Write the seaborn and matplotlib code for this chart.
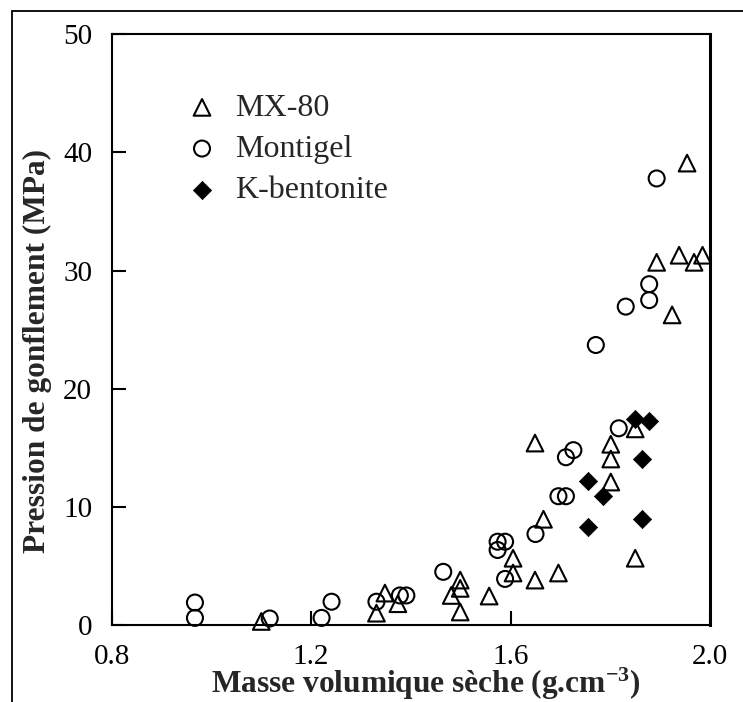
import matplotlib
matplotlib.use("Agg")
import matplotlib.pyplot as plt
from matplotlib.patches import Rectangle
import seaborn as sns
import pandas as pd

# ---- data ----
mx80_x = [1.100, 1.331, 1.348, 1.374, 1.499, 1.499, 1.481, 1.499, 1.557, 1.605,
          1.605, 1.666, 1.649, 1.696, 1.649, 1.801, 1.801, 1.801, 1.850, 1.850,
          1.954, 1.893, 1.938, 1.968, 1.985, 1.924]
mx80_y = [0.3, 1.0, 2.7, 1.8, 3.8, 3.1, 2.5, 1.1, 2.45, 4.4,
          5.65, 8.95, 3.8, 4.4, 15.4, 15.3, 14.05, 12.1, 16.6, 5.65,
          39.1, 30.7, 31.3, 30.7, 31.3, 26.25]

montigel_x = [0.967, 0.967, 1.117, 1.221, 1.241, 1.331, 1.378, 1.391, 1.465, 1.589,
              1.574, 1.589, 1.574, 1.650, 1.696, 1.711, 1.711, 1.726, 1.817, 1.893,
              1.878, 1.878, 1.831, 1.771]
montigel_y = [1.9, 0.6, 0.55, 0.6, 1.97, 1.97, 2.5, 2.5, 4.5, 3.9,
              7.05, 7.05, 6.35, 7.7, 10.9, 10.9, 14.2, 14.8, 16.65, 37.8,
              28.85, 27.5, 26.95, 23.7]

kbent_x = [1.756, 1.756, 1.786, 1.850, 1.878, 1.863, 1.863]
kbent_y = [12.2, 8.3, 10.9, 17.4, 17.3, 14.05, 9.0]

x_ticks = [0.8, 1.2, 1.6, 2.0]
x_tick_labels = ["0.8", "1.2", "1.6", "2.0"]
y_ticks = [0, 10, 20, 30, 40, 50]
y_tick_labels = ["0", "10", "20", "30", "40", "50"]

series = ["MX-80", "Montigel", "K-bentonite"]

df = pd.concat([
    pd.DataFrame({"x": mx80_x, "y": mx80_y, "mat": series[0]}),
    pd.DataFrame({"x": montigel_x, "y": montigel_y, "mat": series[1]}),
    pd.DataFrame({"x": kbent_x, "y": kbent_y, "mat": series[2]}),
], ignore_index=True)

# ---- style ----
sns.set_style("white")
plt.rcParams["font.family"] = ["Liberation Serif", "DejaVu Serif"]
plt.rcParams["mathtext.fontset"] = "custom"
plt.rcParams["mathtext.rm"] = "Liberation Serif"
plt.rcParams["mathtext.bf"] = "Liberation Serif:bold"
plt.rcParams["mathtext.it"] = "Liberation Serif:italic"

fig = plt.figure(figsize=(7.43, 7.02), dpi=100)
ax = fig.add_axes([0.1503, 0.1097, 0.8053, 0.8414])

sns.scatterplot(data=df[df.mat == series[0]], x="x", y="y", ax=ax, marker="^",
                s=12 ** 2, facecolor="none", edgecolor="black", linewidth=1.5,
                label=series[0], clip_on=False, zorder=3)
sns.scatterplot(data=df[df.mat == series[1]], x="x", y="y", ax=ax, marker="o",
                s=11.5 ** 2, facecolor="none", edgecolor="black", linewidth=1.5,
                label=series[1], clip_on=False, zorder=3)
sns.scatterplot(data=df[df.mat == series[2]], x="x", y="y", ax=ax, marker="D",
                s=9.3 ** 2, facecolor="black", edgecolor="black", linewidth=0.5,
                label=series[2], clip_on=False, zorder=4)

ax.set_xlim(0.8, 2.0)
ax.set_ylim(0, 50)
ax.set_xticks(x_ticks)
ax.set_xticklabels(x_tick_labels)
ax.set_yticks(y_ticks)
ax.set_yticklabels(y_tick_labels)
ax.tick_params(axis="both", direction="in", length=10, width=1.5,
               labelsize=21, pad=14, colors="black",
               top=False, right=False, left=True, bottom=True)

for side in ["left", "bottom", "top"]:
    ax.spines[side].set_linewidth(1.5)
    ax.spines[side].set_color("black")
ax.spines["right"].set_linewidth(2.2)
ax.spines["right"].set_color("black")

ax.set_xlabel("Masse volumique sèche (g.cm$^{\\mathbf{-3}}$)", fontsize=22.6,
              fontweight="bold")
ax.xaxis.set_label_coords(0.525, -0.069)
ax.set_ylabel("Pression de gonflement (MPa)", fontsize=22.6, fontweight="bold")
ax.yaxis.set_label_coords(-0.10, 0.464)

leg = ax.legend(loc="upper left", bbox_to_anchor=(0.1243, 0.900), frameon=False,
                fontsize=23, handlelength=1.0, handletextpad=0.53,
                borderpad=0, borderaxespad=0, labelspacing=0.37)

# outer frame of the figure (open on right and bottom)
fig.add_artist(Rectangle((12 / 743, -0.2), 1.5, 1 - 11 / 702 + 0.2,
                         transform=fig.transFigure, fill=False,
                         edgecolor="black", linewidth=1.3))

fig.savefig("out.png", dpi=100)
